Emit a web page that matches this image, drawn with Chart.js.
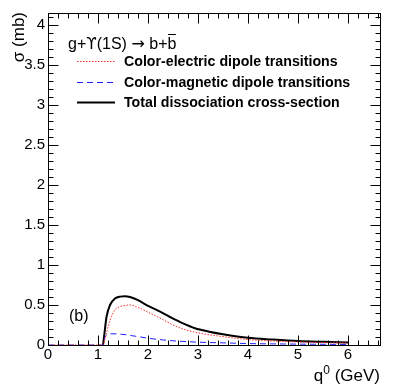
<!DOCTYPE html>
<html>
<head>
<meta charset="utf-8">
<script src="https://cdn.jsdelivr.net/npm/chart.js@4.4.0/dist/chart.umd.min.js"></script>
<style>
  body { margin: 0; background: #fff; }
  #wrap { width: 407px; height: 392px; }
</style>
</head>
<body>
<div id="wrap"><canvas id="c"></canvas></div>
<script>
// photon energy q0 (GeV)
var q0 = [0, 1.1, 1.13, 1.17, 1.24, 1.34, 1.44, 1.54, 1.64, 1.8, 2.0, 2.2, 2.44, 2.7, 2.94, 3.2, 3.5, 4.0, 4.5, 5.0, 5.5, 6.0];
// cross sections (mb); the total curve starts at threshold
var totalXs    = [null, 0, 0.15, 0.35, 0.50, 0.58, 0.605, 0.61, 0.60, 0.56, 0.49, 0.43, 0.35, 0.27, 0.21, 0.17, 0.135, 0.09, 0.068, 0.05, 0.04, 0.032];
var electricXs = [0, 0, 0.05, 0.15, 0.31, 0.44, 0.48, 0.495, 0.50, 0.47, 0.41, 0.35, 0.27, 0.20, 0.16, 0.13, 0.105, 0.068, 0.05, 0.038, 0.03, 0.025];
var magneticXs = [0, 0, 0.08, 0.125, 0.14, 0.14, 0.135, 0.13, 0.12, 0.105, 0.085, 0.07, 0.055, 0.045, 0.037, 0.031, 0.027, 0.018, 0.014, 0.011, 0.009, 0.007];

var xTicks = [0, 1, 2, 3, 4, 5, 6];
var yTicks = [0, 0.5, 1, 1.5, 2, 2.5, 3, 3.5, 4];

var FONT = '"Liberation Sans", Arial, Helvetica, sans-serif';
var SYM = '"DejaVu Sans", sans-serif';

function pts(ys) {
    return q0.map(function (x, i) { return {x: x, y: ys[i]}; });
}

function makeSet(label, ys, color, width, dash) {
    return {
        label: label,
        data: pts(ys),
        borderColor: color,
        borderWidth: width,
        borderDash: dash,
        pointRadius: 0,
        fill: false,
        spanGaps: false,
        cubicInterpolationMode: 'monotone'
    };
}

// draw text pieces one after the other, each with its own font
function runText(ctx, parts, x, y) {
    parts.forEach(function (p) {
        ctx.font = p[1];
        ctx.fillText(p[0], x, y + (p[2] || 0));
        x += ctx.measureText(p[0]).width;
    });
    return x;
}

// frame, inner ticks, legend and titles, ROOT style
var rootFrame = {
    id: 'rootFrame',
    afterDraw: function (chart) {
        var ctx = chart.ctx, a = chart.chartArea;
        var xs = chart.scales.x, ys = chart.scales.y;
        var L = Math.round(a.left) + 0.5, R = Math.round(a.right) + 0.5;
        var T = Math.round(a.top) + 0.5, B = Math.round(a.bottom) + 0.5;
        ctx.save();
        ctx.strokeStyle = '#000';
        ctx.lineWidth = 1;
        ctx.setLineDash([]);
        ctx.strokeRect(L, T, R - L, B - T);

        ctx.beginPath();
        var i, v, p, len;
        for (i = 0; i <= 33; i++) {
            v = i * 0.2;
            p = Math.round(xs.getPixelForValue(v)) + 0.5;
            len = (i % 5 === 0) ? 10 : 5;
            ctx.moveTo(p, B); ctx.lineTo(p, B - len);
            ctx.moveTo(p, T); ctx.lineTo(p, T + len);
        }
        for (i = 0; i <= 41; i++) {
            v = i * 0.1;
            p = Math.round(ys.getPixelForValue(v)) + 0.5;
            len = (i % 5 === 0) ? 10 : 5;
            ctx.moveTo(L, p); ctx.lineTo(L + len, p);
            ctx.moveTo(R, p); ctx.lineTo(R - len, p);
        }
        ctx.stroke();

        // axis titles
        ctx.fillStyle = '#000';
        ctx.textBaseline = 'alphabetic';
        ctx.textAlign = 'left';
        var f17 = '17px ' + FONT;
        ctx.font = f17;
        var w = ctx.measureText('q (GeV)').width;
        ctx.font = '12px ' + FONT;
        w += ctx.measureText('0').width;
        runText(ctx, [['q', f17], ['0', '12px ' + FONT, -7], [' (GeV)', f17]], 380 - w, 381);

        ctx.save();
        ctx.translate(24, 12);
        ctx.rotate(-Math.PI / 2);
        ctx.textAlign = 'right';
        ctx.font = '17px ' + FONT;
        ctx.fillText('\u03c3 (mb)', 0, 0);
        ctx.restore();

        // header
        ctx.textAlign = 'left';
        var f16 = '16px ' + FONT;
        var hy = 49;
        var bx = runText(ctx, [['g+', f16], ['\u03d2', '15px ' + SYM], ['(1S) ', f16], ['\u2192', '16px ' + SYM], [' b+', f16]], 68, hy);
        ctx.font = f16;
        ctx.fillText('b', bx, hy);
        var bw = ctx.measureText('b').width;
        ctx.fillRect(bx + 0.5, hy - 15, bw - 1, 1);

        // legend entries
        var rows = [61, 82, 102];
        chart.data.datasets.forEach(function (ds, k) {
            var y = rows[k] + 0.5;
            ctx.beginPath();
            ctx.strokeStyle = ds.borderColor;
            ctx.lineWidth = ds.borderWidth;
            ctx.setLineDash(ds.borderDash || []);
            ctx.moveTo(77, y); ctx.lineTo(115, y);
            ctx.stroke();
            ctx.setLineDash([]);
            ctx.fillStyle = '#000';
            ctx.font = 'bold 14.2px ' + FONT;
            ctx.textBaseline = 'middle';
            ctx.fillText(ds.label, 124, rows[k] + 1);
        });

        ctx.textBaseline = 'alphabetic';
        ctx.font = '16px ' + FONT;
        ctx.fillText('(b)', 69, 321);
        ctx.restore();
    }
};

new Chart(document.getElementById('c'), {
    type: 'line',
    data: {
        datasets: [
            makeSet('Color-electric dipole transitions', electricXs, '#ff3030', 1, [1.5, 1.5]),
            makeSet('Color-magnetic dipole transitions', magneticXs, '#2020ff', 1, [6, 4]),
            makeSet('Total dissociation cross-section', totalXs, '#000000', 2, [])
        ]
    },
    options: {
        responsive: true,
        maintainAspectRatio: false,
        animation: false,
        layout: { padding: { top: 13, right: 27, left: 0, bottom: 0 } },
        plugins: { legend: { display: false }, tooltip: { enabled: false } },
        scales: {
            x: {
                type: 'linear', min: 0, max: 6.64,
                grid: { display: false, drawTicks: false },
                border: { display: false },
                afterFit: function (s) { s.height = 47; },
                afterBuildTicks: function (s) { s.ticks = xTicks.map(function (v) { return {value: v}; }); },
                ticks: { padding: 1, maxRotation: 0, autoSkip: false, color: '#000', font: { family: FONT, size: 15 },
                         callback: function (v) { return String(v); } }
            },
            y: {
                type: 'linear', min: 0, max: 4.15,
                grid: { display: false, drawTicks: false },
                border: { display: false },
                afterFit: function (s) { s.width = 48; },
                afterBuildTicks: function (s) { s.ticks = yTicks.map(function (v) { return {value: v}; }); },
                ticks: { padding: 3, color: '#000', font: { family: FONT, size: 15 },
                         callback: function (v) { return String(v); } }
            }
        }
    },
    plugins: [rootFrame]
});
</script>
</body>
</html>
